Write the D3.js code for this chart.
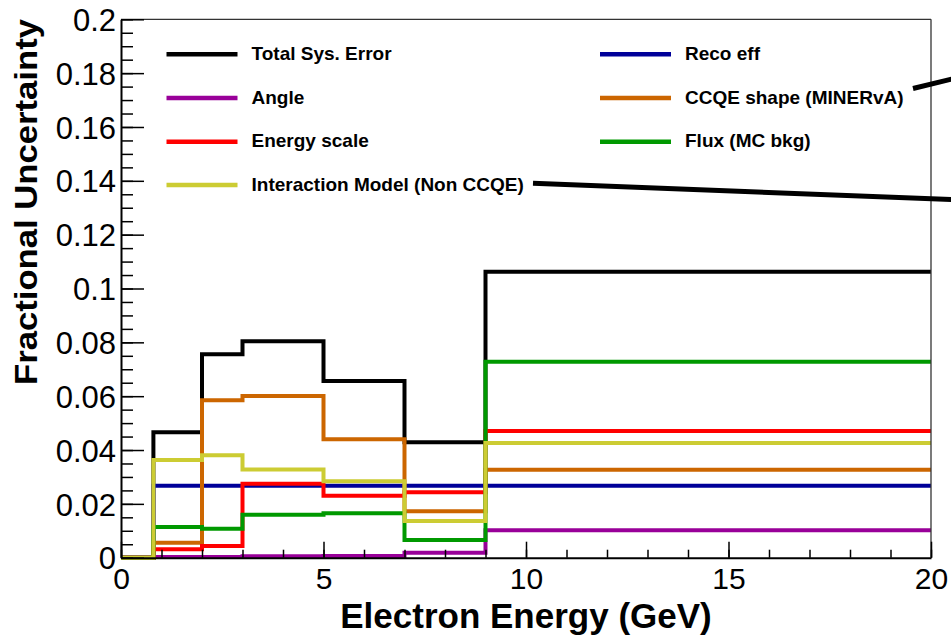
<!DOCTYPE html>
<html>
<head>
<meta charset="utf-8">
<script src="https://cdn.jsdelivr.net/npm/d3@7"></script>
<style>
  html, body { margin: 0; padding: 0; background: #ffffff; }
  svg { display: block; font-family: "Liberation Sans", Arial, Helvetica, sans-serif; }
</style>
</head>
<body>
<svg id="chart" width="951" height="639"></svg>
<script>
// Bin edges of the electron-energy histograms (GeV)
const binEdges = [0, 0.8, 2, 3, 5, 7, 9, 20];

// Fractional uncertainty per bin, one array per systematic source
const totalSys      = [0, 0.0466, 0.0756, 0.0804, 0.0656, 0.0429, 0.1062];
const recoEff       = [0, 0.0267, 0.0267, 0.0267, 0.0267, 0.0267, 0.0267];
const angle         = [0, 0.0003, 0.0003, 0.0005, 0.0006, 0.0018, 0.0102];
const ccqeShape     = [0, 0.0056, 0.0585, 0.0601, 0.0440, 0.0173, 0.0327];
const energyScale   = [0, 0.0031, 0.0043, 0.0275, 0.0230, 0.0243, 0.0471];
const fluxMcBkg     = [0, 0.0114, 0.0108, 0.0160, 0.0165, 0.0066, 0.0728];
const interaction   = [0, 0.0363, 0.0381, 0.0328, 0.0284, 0.0136, 0.0426];

// Legend entries (two columns, filled row by row) and draw order
const seriesNames = ["Total Sys. Error", "Reco eff", "Angle", "CCQE shape (MINERvA)",
                     "Energy scale", "Flux (MC bkg)", "Interaction Model (Non CCQE)"];
const seriesValues = [totalSys, recoEff, angle, ccqeShape, energyScale, fluxMcBkg, interaction];
const seriesColors = ["#000000", "#000099", "#990099", "#cc6600", "#ff0000", "#009900", "#cccc33"];

// Axis ticks and labels
const xMajorTicks = [0, 5, 10, 15, 20];
const xTickLabels = ["0", "5", "10", "15", "20"];
const xMinorTicks = d3.range(0, 21, 1);
const yMajorTicks = [0, 0.02, 0.04, 0.06, 0.08, 0.1, 0.12, 0.14, 0.16, 0.18, 0.2];
const yTickLabels = ["0", "0.02", "0.04", "0.06", "0.08", "0.1", "0.12", "0.14", "0.16", "0.18", "0.2"];
const yMinorTicks = d3.range(0, 41).map(i => i * 0.005);

const xTitle = "Electron Energy (GeV)";
const yTitle = "Fractional Uncertainty";

const svg = d3.select("#chart");
const frame = { left: 121, right: 931, top: 19.3, bottom: 557.7 };

const x = d3.scaleLinear().domain([0, 20]).range([frame.left, frame.right]);
const y = d3.scaleLinear().domain([0, 0.2]).range([frame.bottom, frame.top]);

// Histogram steps
const step = d3.line()
  .x(d => x(d[0]))
  .y(d => y(d[1]))
  .curve(d3.curveStepAfter);

function stepPoints(vals) {
  const pts = vals.map((v, i) => [binEdges[i], v]);
  pts.push([binEdges[binEdges.length - 1], vals[vals.length - 1]]);
  return pts;
}

svg.append("clipPath").attr("id", "plotClip")
  .append("rect")
  .attr("x", frame.left).attr("y", frame.top - 5)
  .attr("width", frame.right - frame.left)
  .attr("height", frame.bottom - frame.top + 10);

const histG = svg.append("g").attr("clip-path", "url(#plotClip)");
histG.selectAll("path.hist")
  .data(seriesValues)
  .join("path")
  .attr("class", "hist")
  .attr("d", d => step(stepPoints(d)))
  .attr("fill", "none")
  .attr("stroke", (d, i) => seriesColors[i])
  .attr("stroke-width", 4)
  .attr("stroke-linejoin", "miter");

// Frame: top and right edges
svg.append("line")
  .attr("x1", frame.left).attr("x2", frame.right)
  .attr("y1", frame.top).attr("y2", frame.top)
  .attr("stroke", "#333").attr("stroke-width", 1.3);
svg.append("line")
  .attr("x1", frame.right).attr("x2", frame.right)
  .attr("y1", frame.top).attr("y2", frame.bottom)
  .attr("stroke", "#333").attr("stroke-width", 1.3);

// Minor ticks
svg.append("g")
  .attr("transform", `translate(0,${frame.bottom})`)
  .call(d3.axisBottom(x).tickValues(xMinorTicks).tickSizeInner(-8).tickSizeOuter(0).tickFormat(""))
  .call(g => g.select(".domain").remove())
  .call(g => g.selectAll("line").attr("stroke-width", 1.5));
svg.append("g")
  .attr("transform", `translate(${frame.left},0)`)
  .call(d3.axisLeft(y).tickValues(yMinorTicks).tickSizeInner(-12).tickSizeOuter(0).tickFormat(""))
  .call(g => g.select(".domain").remove())
  .call(g => g.selectAll("line").attr("stroke-width", 1.5));

// Major ticks with labels
const xAxisG = svg.append("g")
  .attr("transform", `translate(0,${frame.bottom})`)
  .call(d3.axisBottom(x).tickValues(xMajorTicks).tickSizeInner(-16).tickSizeOuter(0)
    .tickFormat((d, i) => xTickLabels[i]));
xAxisG.select(".domain").attr("stroke-width", 2);
xAxisG.selectAll("line").attr("stroke-width", 1.5);
xAxisG.selectAll("text")
  .attr("y", 31).attr("dy", null)
  .attr("font-size", 30)
  .attr("fill", "#000");

const yAxisG = svg.append("g")
  .attr("transform", `translate(${frame.left},0)`)
  .call(d3.axisLeft(y).tickValues(yMajorTicks).tickSizeInner(-23).tickSizeOuter(0)
    .tickFormat((d, i) => yTickLabels[i]));
yAxisG.select(".domain").attr("stroke-width", 2);
yAxisG.selectAll("line").attr("stroke-width", 1.5);
yAxisG.selectAll("text")
  .attr("x", -5).attr("dy", "0.36em")
  .attr("font-size", 31)
  .attr("fill", "#000");

// Axis titles
svg.append("text")
  .attr("x", (frame.left + frame.right) / 2)
  .attr("y", 628)
  .attr("text-anchor", "middle")
  .attr("font-size", 35)
  .attr("font-weight", "bold")
  .text(xTitle);

svg.append("text")
  .attr("transform", "translate(37,19) rotate(-90)")
  .attr("text-anchor", "end")
  .attr("font-size", 31)
  .attr("font-weight", "bold")
  .attr("textLength", 366)
  .attr("lengthAdjust", "spacingAndGlyphs")
  .text(yTitle);

// Legend
const legendCols = [{ lineX: 166.5, textX: 251.5 }, { lineX: 600, textX: 685.5 }];
const legendRowY = [54.3, 98, 141.7, 185];
const legendG = svg.append("g");
const entries = legendG.selectAll("g.entry")
  .data(seriesNames)
  .join("g")
  .attr("class", "entry")
  .attr("transform", (d, i) => `translate(${legendCols[i % 2].lineX},${legendRowY[Math.floor(i / 2)]})`);
entries.append("line")
  .attr("x1", 0).attr("x2", 71)
  .attr("y1", 0).attr("y2", 0)
  .attr("stroke", (d, i) => seriesColors[i])
  .attr("stroke-width", 4.5);
entries.append("text")
  .attr("x", 85)
  .attr("y", 5.5)
  .attr("font-size", 19)
  .attr("font-weight", "bold")
  .attr("fill", "#000")
  .text(d => d);

// Pointer lines leading off to the right
const pointers = [
  [[913, 88.5], [952, 79]],
  [[533, 183.3], [952, 199.5]]
];
svg.selectAll("line.pointer")
  .data(pointers)
  .join("line")
  .attr("class", "pointer")
  .attr("x1", d => d[0][0]).attr("y1", d => d[0][1])
  .attr("x2", d => d[1][0]).attr("y2", d => d[1][1])
  .attr("stroke", "#000")
  .attr("stroke-width", 5);
</script>
</body>
</html>
